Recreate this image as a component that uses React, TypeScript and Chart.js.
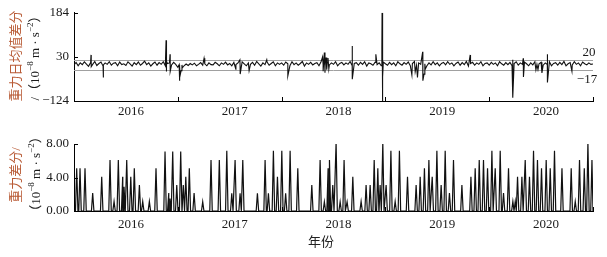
import React, { useEffect, useRef } from 'react';
import { Chart, registerables } from 'chart.js';

Chart.register(...registerables);

const FONT = '"Liberation Serif", "Noto Sans CJK SC", serif';
const BROWN = '#b85a35';
const INK = '#1a1a1a';

// ---- axes / labels ----
const yearLabels = ['2016', '2017', '2018', '2019', '2020'];
const yearLabelPositions = [2016.5, 2017.5, 2018.5, 2019.5, 2020.5];
const yearBoundaries = [2017, 2018, 2019, 2020, 2021];
const topTicks = [-124, 30, 184];
const bottomTicks = [0, 4, 8];
const refLines = [20, -17];
const refLineLabels = ['20', '−17'];

// ---- top series: daily-mean gravity difference (sampled every 0.02 yr from 2016.0) ----
const topStart = 2016;
const topStep = 0.02;
const topBaseline = [
  2, 11, -1, 9, 3, 13, 5, -3, 10, 4, 14, 0, 7, 12, -2, 9, 4, 13, 1, 8, 10, -1, 12, 3, 6,
  0, 13, 6, -2, 10, 3, 12, 1, 7, 15, 3, 9, -2, 6, 12, 1, 10, 4, 13, -1, 7, 9, 2, 11, 4,
  -6, -3, 2, -1, 5, 0, 7, 2, 8, -1, 4, 10, 1, 6, -1, 9, 3, 2, 11, 6, -1, 9, 4, 12, 2,
  7, -1, 11, 3, 9, 1, 13, 6, -1, 9, 4, 11, 1, 14, 6, -2, 9, 3, 12, 1, 7, 13, -1, 9, 4,
  9, 1, 12, 6, -1, 13, 3, 9, 1, 7, 14, -2, 9, 4, 11, 2, 7, 10, -1, 13, 3, 7, 11, 2, 9,
  4, 13, -1, 7, 11, 2, 9, 4, 14, -1, 7, 10, 1, 11, 4, 13, -2, 9, 6, 1, 11, 3, 9, -1, 12,
  6, 1, 11, 3, 9, -1, 13, 6, 1, 10, 4, 12, -1, 7, 14, 1, 9, 4, 11, 6, -1, 9, 2, 13, 3,
  9, -1, 7, 11, 2, 13, 4, 9, -1, 7, 12, 1, 10, 3, 14, -2, 7, 11, 1, 9, 4, 13, -1, 7, 9,
  1, 11, 4, 9, -1, 13, 6, 1, 10, 3, 11, -1, 7, 13, 1, 9, 4, 12, 6, -1, 9, 2, 13, 4, 6,
  11, 1, 9, 3, 13, -1, 7, 10, 1, 11, 3, 14, -1, 6, 10, 2, 13, 4, 9, -1, 12, 6, 2, 9, 4,
  5,
];
const topEventT = [
  2016.164, 2016.166, 2016.282, 2016.284, 2016.887, 2016.889, 2016.893, 2016.925, 2016.927,
  2017.013, 2017.015, 2017.022, 2017.032, 2017.045, 2017.253, 2017.559, 2017.598, 2017.601,
  2017.687, 2017.857, 2018.06, 2018.395, 2018.4, 2018.412, 2018.418, 2018.428, 2018.435,
  2018.447, 2018.455, 2018.68, 2018.682, 2018.908, 2018.966, 2018.968, 2018.97, 2018.973,
  2018.976, 2019.255, 2019.287, 2019.309, 2019.359, 2019.362, 2019.372, 2019.385, 2019.817,
  2020.226, 2020.228, 2020.328, 2020.33, 2020.45, 2020.47, 2020.508, 2020.56, 2020.562, 2020.797,
];
const topEventV = [
  37, -4, -42, 2, 88, -21, 15, 39, -20,
  3, -53, -35, -18, -8, 25, -13, 20, -30,
  -18, 20, -36, 30, -20, 45, -25, 28, -15,
  26, -12, 68, -48, 39, 60, 184, -124, 75,
  -40, -33, -22, -42, 48, -53, -30, -12, 37,
  20, -113, 25, -40, -15, -14, -26, 39, -59, -20,
];

// ---- bottom series: gravity difference spikes ----
const spikeT = [
  2016.026, 2016.058, 2016.106, 2016.18, 2016.267, 2016.347, 2016.386, 2016.427, 2016.469, 2016.482,
  2016.508, 2016.547, 2016.581, 2016.63, 2016.662, 2016.726, 2016.79, 2016.877, 2016.913, 2016.925,
  2016.951, 2016.99, 2017.028, 2017.053, 2017.077, 2017.111, 2017.157, 2017.24, 2017.32, 2017.4,
  2017.472, 2017.52, 2017.552, 2017.6, 2017.626, 2017.767, 2017.841, 2017.873, 2017.921, 2017.96,
  2018.002, 2018.039, 2018.082, 2018.156, 2018.291, 2018.371, 2018.412, 2018.448, 2018.461, 2018.493,
  2018.525, 2018.564, 2018.602, 2018.631, 2018.686, 2018.766, 2018.814, 2018.853, 2018.892, 2018.927,
  2018.949, 2018.975, 2019.007, 2019.053, 2019.094, 2019.135, 2019.213, 2019.296, 2019.335, 2019.376,
  2019.419, 2019.451, 2019.496, 2019.537, 2019.576, 2019.617, 2019.656, 2019.737, 2019.824, 2019.865,
  2019.904, 2019.945, 2019.984, 2020.026, 2020.058, 2020.106, 2020.138, 2020.186, 2020.228, 2020.251,
  2020.273, 2020.315, 2020.347, 2020.388, 2020.427, 2020.465, 2020.504, 2020.549, 2020.588, 2020.629,
  2020.701, 2020.79, 2020.829, 2020.87, 2020.916, 2020.951, 2020.99,
];
const spikeV = [
  5.1, 5.1, 5.1, 2.15, 4.1, 6.1, 1.15, 6.1, 4.1, 2.9,
  6.1, 4.1, 5.1, 3.1, 1.15, 1.15, 5.1, 7.1, 2.15, 1.5,
  7.1, 3.1, 7.1, 3.1, 4.1, 5.1, 2.15, 1.1, 6.1, 6.1,
  7.2, 2.1, 6.1, 2.1, 6.1, 2.1, 6.1, 2.1, 7.2, 4.1,
  7.2, 2.1, 7.2, 5.1, 3.1, 6.1, 1.1, 5.1, 6.1, 3.1,
  8.2, 1.1, 6.1, 1.1, 4.1, 1.15, 3.1, 3.1, 6.1, 5.1,
  3.1, 8.2, 3.1, 7.2, 1.15, 7.2, 4.1, 3.1, 4.1, 5.1,
  6.1, 4.1, 7.2, 3.1, 7.2, 2.15, 6.1, 3.1, 4.1, 5.1,
  6.1, 6.1, 5.1, 7.2, 5.1, 7.2, 2.15, 5.1, 1.15, 1.15,
  4.1, 4.1, 6.1, 4.1, 7.2, 6.1, 5.1, 6.1, 5.1, 7.2,
  5.1, 5.1, 1.15, 6.1, 5.1, 8.2, 6.1,
];

type Seg = { t: string; c: string; sup?: boolean };

function drawRotatedRich(ctx: CanvasRenderingContext2D, cx: number, cy: number, segs: Seg[], size: number) {
  const normal = `${size}px ${FONT}`;
  const small = `${Math.round(size * 0.68)}px ${FONT}`;
  ctx.save();
  ctx.translate(cx, cy);
  ctx.rotate(-Math.PI / 2);
  ctx.textBaseline = 'middle';
  ctx.textAlign = 'left';
  let total = 0;
  const widths = segs.map((s) => {
    ctx.font = s.sup ? small : normal;
    const w = ctx.measureText(s.t).width;
    total += w;
    return w;
  });
  let x = -total / 2;
  segs.forEach((s, i) => {
    ctx.font = s.sup ? small : normal;
    ctx.fillStyle = s.c;
    ctx.fillText(s.t, x, s.sup ? -size * 0.38 : 0);
    x += widths[i];
  });
  ctx.restore();
}

function buildTopData() {
  const pts: { x: number; y: number }[] = topBaseline.map((v, i) => ({ x: topStart + i * topStep, y: v }));
  topEventT.forEach((t, i) => pts.push({ x: t, y: topEventV[i] }));
  pts.sort((a, b) => a.x - b.x);
  return pts;
}

function buildBottomData() {
  const pts: { x: number; y: number }[] = [{ x: 2016, y: 0 }];
  spikeT.forEach((t, i) => {
    pts.push({ x: t - 0.012, y: 0 });
    pts.push({ x: t, y: spikeV[i] });
    pts.push({ x: t + 0.012, y: 0 });
  });
  pts.push({ x: 2021, y: 0 });
  pts.sort((a, b) => a.x - b.x);
  return pts;
}

function makeDecor(kind: 'top' | 'bottom') {
  return {
    id: 'decor-' + kind,
    beforeDatasetsDraw(chart: any) {
      if (kind !== 'top') return;
      const { ctx, chartArea, scales } = chart;
      ctx.save();
      ctx.strokeStyle = '#a0a0a0';
      ctx.lineWidth = 1;
      refLines.forEach((v) => {
        const py = Math.round(scales.y.getPixelForValue(v)) + 0.5;
        ctx.beginPath();
        ctx.moveTo(chartArea.left, py);
        ctx.lineTo(chartArea.right, py);
        ctx.stroke();
      });
      ctx.restore();
    },
    afterDraw(chart: any) {
      const { ctx, chartArea, scales } = chart;
      const { left, bottom } = chartArea;
      ctx.save();
      ctx.strokeStyle = '#000';
      ctx.lineWidth = 1;
      ctx.beginPath();
      const ticks = kind === 'top' ? topTicks : bottomTicks;
      ticks.forEach((v) => {
        const py = Math.round(scales.y.getPixelForValue(v)) + 0.5;
        ctx.moveTo(left, py);
        ctx.lineTo(left + 4, py);
      });
      yearBoundaries.forEach((b) => {
        const px = Math.round(scales.x.getPixelForValue(b)) + 0.5;
        ctx.moveTo(px, bottom);
        ctx.lineTo(px, bottom - 4);
      });
      ctx.stroke();

      if (kind === 'top') {
        ctx.font = `13px ${FONT}`;
        ctx.fillStyle = INK;
        ctx.textAlign = 'center';
        ctx.textBaseline = 'middle';
        ctx.fillText(refLineLabels[0], 589, 53);
        ctx.fillText(refLineLabels[1], 587, 80);
        drawRotatedRich(ctx, 17, 56, [{ t: '重力日均值差分', c: BROWN }], 13);
        drawRotatedRich(ctx, 36, 55, [
          { t: '/（10', c: INK },
          { t: '−8', c: INK, sup: true },
          { t: ' m · s', c: INK },
          { t: '−2', c: INK, sup: true },
          { t: '）', c: INK },
        ], 13);
      } else {
        drawRotatedRich(ctx, 17, 55, [{ t: '重力差分/', c: BROWN }], 13);
        drawRotatedRich(ctx, 37, 54, [
          { t: '（10', c: INK },
          { t: '−8', c: INK, sup: true },
          { t: ' m · s', c: INK },
          { t: '−2', c: INK, sup: true },
          { t: '）', c: INK },
        ], 13);
        ctx.font = `13px ${FONT}`;
        ctx.fillStyle = '#222';
        ctx.textAlign = 'center';
        ctx.textBaseline = 'middle';
        ctx.fillText('年份', 321, 123);
      }
      ctx.restore();
    },
  };
}

function fmtTop(v: number) {
  return v < 0 ? '−' + Math.abs(v) : String(v);
}

function makeConfig(kind: 'top' | 'bottom'): any {
  const isTop = kind === 'top';
  return {
    type: 'line',
    data: {
      datasets: [
        {
          data: isTop ? buildTopData() : buildBottomData(),
          borderColor: '#111',
          borderWidth: isTop ? 1.1 : 1.2,
          pointRadius: 0,
          tension: 0,
          fill: false,
        },
      ],
    },
    options: {
      responsive: false,
      animation: false,
      events: [],
      layout: { padding: { left: 0, right: 14, top: isTop ? 11 : 24, bottom: 0 } },
      plugins: { legend: { display: false }, tooltip: { enabled: false }, title: { display: false } },
      scales: {
        x: {
          type: 'linear',
          min: 2016,
          max: 2021,
          afterBuildTicks: (s: any) => {
            s.ticks = yearLabelPositions.map((v) => ({ value: v }));
          },
          afterFit: (s: any) => {
            s.height = isTop ? 19 : 46;
          },
          grid: { display: false, drawTicks: false },
          border: { display: true, color: '#000', width: 1 },
          ticks: {
            autoSkip: false,
            maxRotation: 0,
            padding: isTop ? 3 : 6,
            labelOffset: 5,
            color: INK,
            font: { family: FONT, size: 13 },
            callback: (v: number) => yearLabels[yearLabelPositions.indexOf(v)] ?? '',
          },
        },
        y: {
          type: 'linear',
          min: isTop ? -124 : 0,
          max: isTop ? 184 : 8,
          afterBuildTicks: (s: any) => {
            s.ticks = (isTop ? topTicks : bottomTicks).map((v) => ({ value: v }));
          },
          afterFit: (s: any) => {
            s.width = 74;
          },
          grid: { display: false, drawTicks: false },
          border: { display: true, color: '#000', width: 1 },
          ticks: {
            padding: 5,
            color: INK,
            font: { family: FONT, size: 13 },
            callback: (v: number) => (isTop ? fmtTop(v) : v.toFixed(2)),
          },
        },
      },
    },
    plugins: [makeDecor(kind)],
  };
}

export default function App() {
  const topRef = useRef<HTMLCanvasElement>(null);
  const botRef = useRef<HTMLCanvasElement>(null);

  useEffect(() => {
    const c1 = new Chart(topRef.current as HTMLCanvasElement, makeConfig('top'));
    const c2 = new Chart(botRef.current as HTMLCanvasElement, makeConfig('bottom'));
    return () => {
      c1.destroy();
      c2.destroy();
    };
  }, []);

  return (
    <div style={{ position: 'fixed', left: 0, top: 0, width: 607, height: 257, background: '#fff' }}>
      <canvas ref={topRef} width={607} height={120} style={{ position: 'absolute', left: 0, top: 0 }} />
      <canvas ref={botRef} width={607} height={137} style={{ position: 'absolute', left: 0, top: 120 }} />
    </div>
  );
}
